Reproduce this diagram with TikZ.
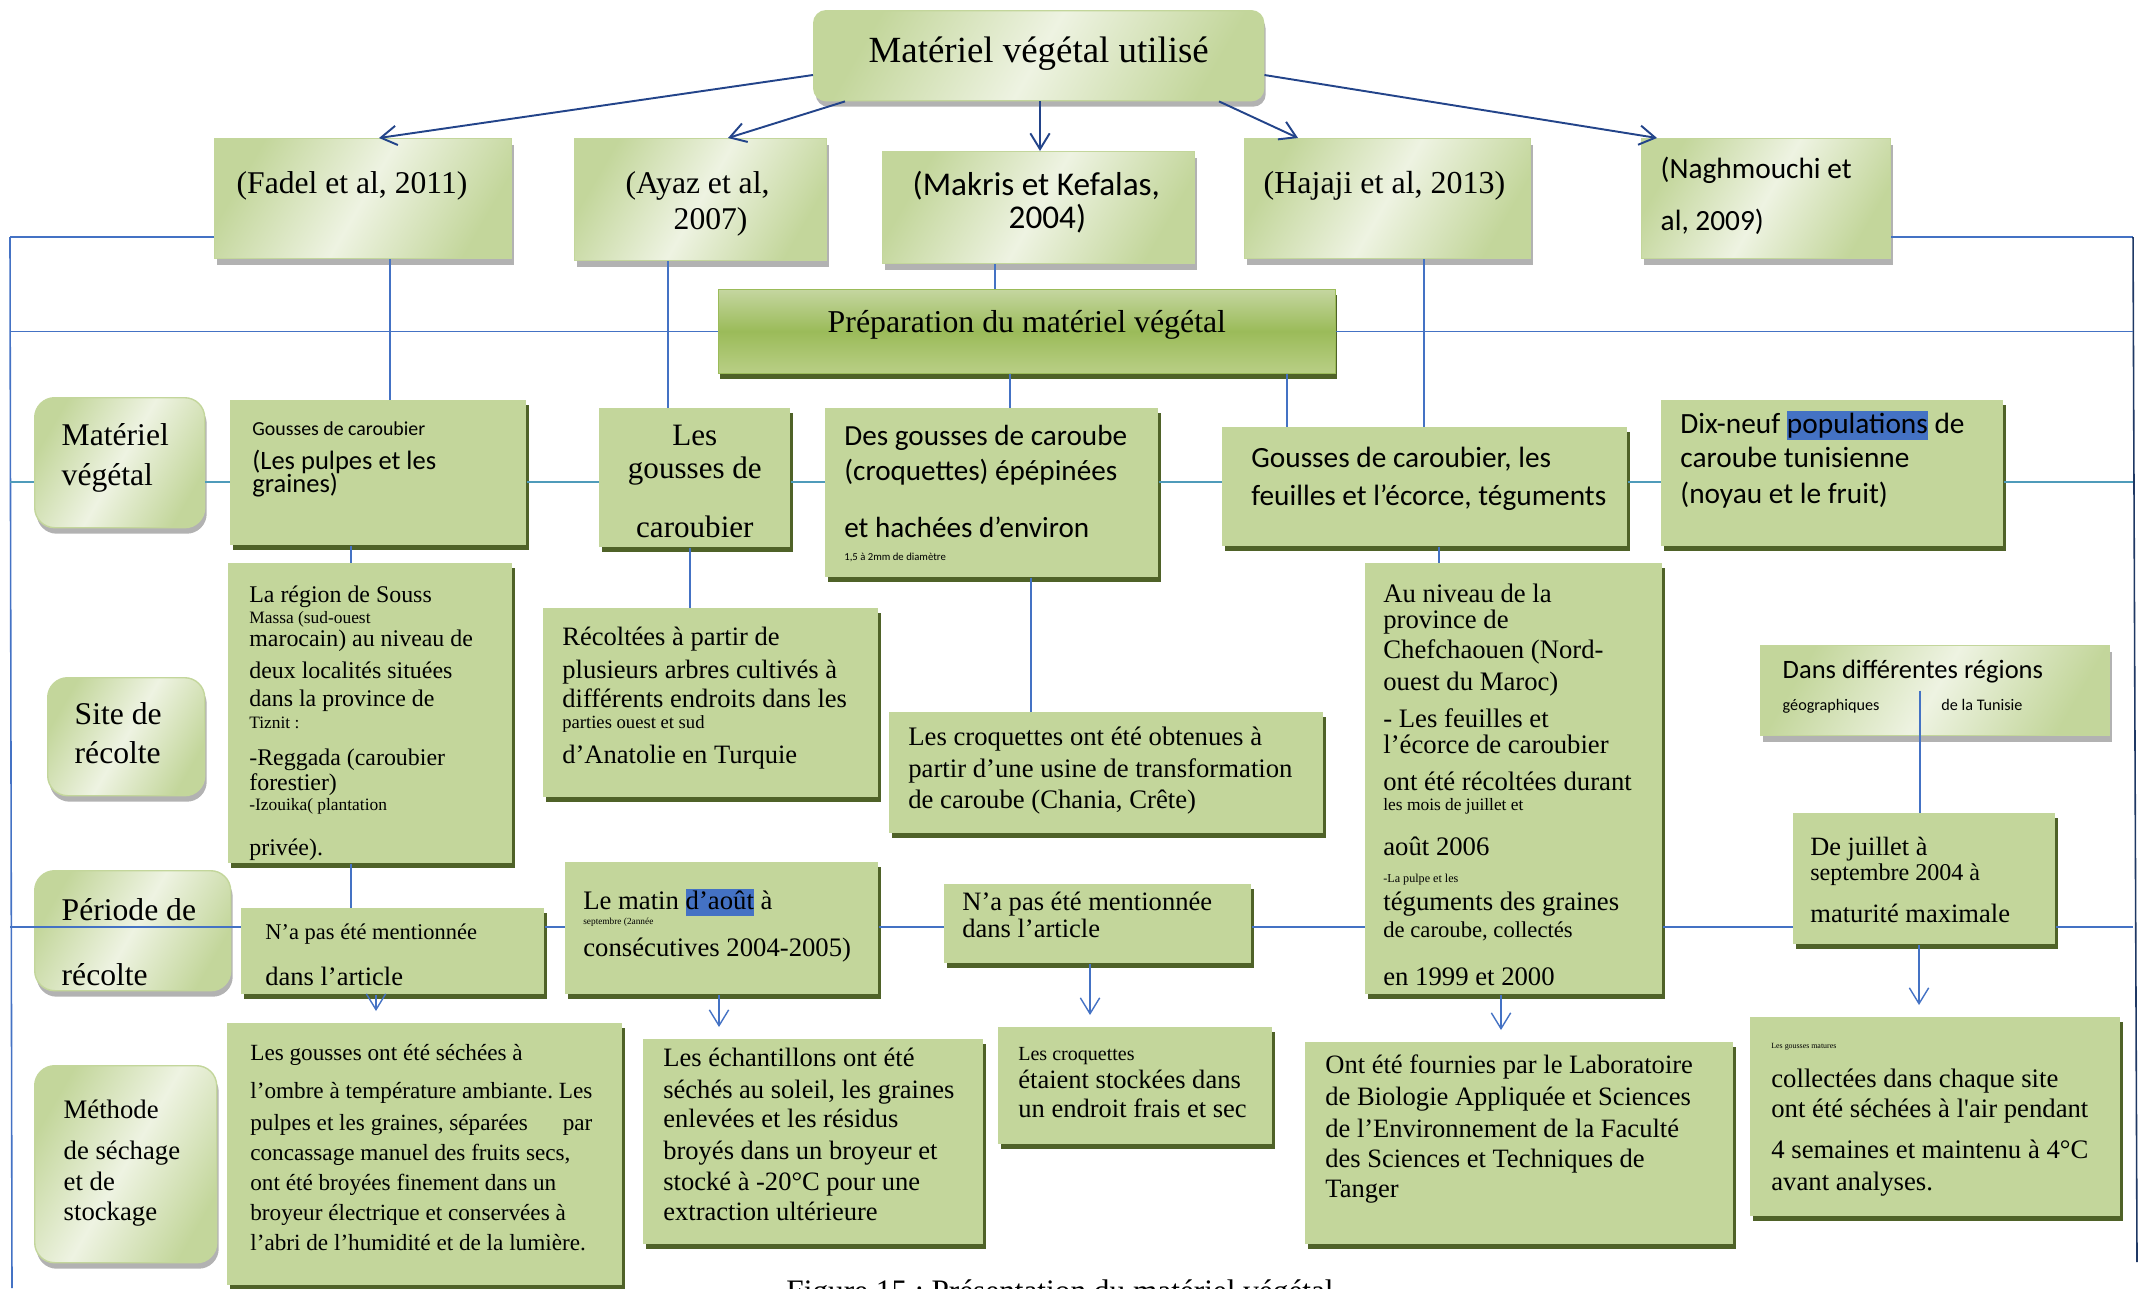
\documentclass[tikz,border=0pt]{standalone}
\usepackage{fontspec}
\setmainfont{Liberation Serif}
\newfontfamily\calib{Carlito}
\usetikzlibrary{shadows, arrows.meta}
\frenchspacing
\newlength{\px}
\setlength{\px}{0.02cm}
\definecolor{boxGreen}{HTML}{C3D69B}
\definecolor{boxEdge}{HTML}{4F6228}
\definecolor{gradDark}{HTML}{C3D69B}
\definecolor{gradLight}{HTML}{EEF3E2}
\definecolor{prepMid}{HTML}{9BBB59}
\definecolor{prepTop}{HTML}{C5D6A0}
\definecolor{prepBot}{HTML}{B9CF86}
\definecolor{hlBlue}{HTML}{4472C4}
\definecolor{linkBlue}{HTML}{4472C4}
\definecolor{linkDark}{HTML}{23448A}
\definecolor{linkTeal}{HTML}{4F9BBA}
\definecolor{frameNavy}{HTML}{1F3864}
\newcommand*{\entry}[4]{% width, height, left padding (px), lines
    \parbox[t][#2\px][t]{#1\px}{\raggedright\leftskip=#3\px\lineskiplimit=-100pt\hbox{}#4}}
\newcommand*{\entryc}[3]{% width, height (px), centred lines
    \parbox[t][#2\px][t]{#1\px}{\centering\lineskiplimit=-100pt\hbox{}#3}}
\newcommand*{\txtline}[4][\rmfamily]{% family, size (pt), distance from previous baseline (px), text
    {#1\fontsize{#2}{#3\px}\selectfont\mbox{#4}\par}}
\newcommand*{\hlword}[1]{{\setlength{\fboxsep}{0pt}\colorbox{hlBlue}{\rule[-0.24em]{0pt}{1em}#1}}}
\tikzset{
    flatbox/.style={fill=boxGreen, inner sep=0pt, anchor=north west,
        drop shadow={shadow xshift=0.06cm, shadow yshift=-0.1cm, fill=boxEdge, opacity=1}},
    softbox/.style={left color=gradDark, right color=gradDark, middle color=gradLight, shading angle=60,
        draw=gradDark, line width=0.8pt, inner sep=0pt, anchor=north west,
        drop shadow={shadow xshift=0.04cm, shadow yshift=-0.12cm, fill=black!30, opacity=1}},
    labelbox/.style={softbox, rounded corners=0.4cm},
    titlebox/.style={softbox, rounded corners=0.25cm},
    prepbox/.style={top color=prepTop, bottom color=prepBot, middle color=prepMid, draw=prepMid,
        inner sep=0pt, anchor=north west,
        drop shadow={shadow xshift=0.03cm, shadow yshift=-0.12cm, fill=boxEdge, opacity=1}},
    reflink/.style={draw=linkDark, line width=1.1pt, ->},
    thinlink/.style={draw=linkBlue, line width=0.6pt},
    mainlink/.style={draw=linkBlue, line width=1.4pt},
    rowlink/.style={draw=linkTeal, line width=1.1pt},
    droplink/.style={draw=linkBlue, line width=0.8pt, ->, shorten >=0.24cm},
    framelink/.style={draw=linkBlue, line width=0.9pt},
}

\begin{document}
\begin{tikzpicture}[x=0.02cm, y=-0.02cm, >={Straight Barb[length=9pt,width=11pt]}]
\useasboundingbox (0,0) rectangle (2145,1288);
\node[titlebox] (title) at (813,10) {\entryc{450}{90}{\txtline{21}{52}{Matériel végétal utilisé}}};
\node[softbox] (fadelRef) at (214,138) {\entry{297}{120}{22}{\txtline{18}{55}{(Fadel et al, 2011)}}};
\node[softbox] (ayazRef) at (574,138) {\entry{252}{122}{51}{\txtline{18}{55}{(Ayaz et al,}\txtline{18}{36}{\hspace{48\px}2007)}}};
\node[softbox] (makRef) at (882,151) {\entry{312}{112}{30}{\txtline[\calib]{18.9}{44}{(Makris et Kefalas,}\txtline[\calib]{18.9}{33}{\hspace{96\px}2004)}}};
\node[softbox] (hajRef) at (1244,138) {\entry{286}{120}{19}{\txtline{18.2}{55}{(Hajaji et al, 2013)}}};
\node[softbox] (nagRef) at (1641,138) {\entry{249}{120}{19}{\txtline[\calib]{16.7}{40}{(Naghmouchi et}\txtline[\calib]{16.7}{52}{al, 2009)}}};
\node[prepbox] (prep) at (718,289) {\entryc{617}{84}{\txtline{18.1}{43}{Préparation du matériel végétal}}};

\node[labelbox] (matLbl) at (34,397) {\entry{170}{130}{27}{\txtline{18}{48}{Matériel}\txtline{18}{40}{végétal}}};
\node[labelbox] (siteLbl) at (47,677) {\entry{157}{118}{27}{\txtline{18}{47}{Site de}\txtline{18}{39}{récolte}}};
\node[labelbox] (perLbl) at (34,870) {\entry{196}{120}{27}{\txtline{18}{50}{Période de}\txtline{18}{65}{récolte}}};
\node[labelbox] (methLbl) at (34,1065) {\entry{182}{197}{29}{\txtline{15.2}{53}{Méthode}\txtline{15.2}{41}{de séchage}\txtline{15.2}{31}{et de}\txtline{15.2}{30}{stockage}}};

\node[flatbox] (fadelMat) at (230,400) {\entry{296}{145}{22}{\txtline[\calib]{11.3}{35}{Gousses de caroubier}\txtline[\calib]{15.1}{34}{(Les pulpes et les}\txtline[\calib]{15.1}{23}{graines)}}};
\node[flatbox] (ayazMat) at (599,408) {\entryc{191}{139}{\txtline{17.7}{37}{Les}\txtline{17.7}{33}{gousses de}\txtline{17.7}{59}{caroubier}}};
\node[flatbox] (makMat) at (825,408) {\entry{333}{169}{19}{\txtline[\calib]{16.6}{37}{Des gousses de caroube}\txtline[\calib]{16.6}{35}{(croquettes) épépinées}\txtline[\calib]{16.6}{57}{et hachées d’environ}\txtline[\calib]{6.1}{23}{1,5 à 2mm de diamètre}}};
\node[flatbox] (hajMat) at (1222,427) {\entry{405}{119}{29}{\txtline[\calib]{16.7}{40}{Gousses de caroubier, les}\txtline[\calib]{16.7}{38}{feuilles et l’écorce, téguments}}};
\node[flatbox] (nagMat) at (1661,400) {\entry{342}{146}{19}{\txtline[\calib]{16.7}{33}{Dix-neuf \hlword{populations} de}\txtline[\calib]{16.7}{34}{caroube tunisienne}\txtline[\calib]{16.7}{36}{(noyau et le fruit)}}};

\node[flatbox] (soussBox) at (228,563) {\entry{284}{300}{21}{\txtline{13.6}{39}{La région de Souss}\txtline{9.9}{21}{Massa (sud-ouest}\txtline{13.6}{23}{marocain) au niveau de}\txtline{13.6}{32}{deux localités situées}\txtline{13.6}{28}{dans la province de}\txtline{9.9}{22}{Tiznit :}\txtline{13.6}{37}{-Reggada (caroubier}\txtline{13.6}{25}{forestier)}\txtline{9.9}{20}{-Izouika( plantation}\txtline{13.6}{45}{privée).}}};
\node[flatbox] (ayazSite) at (543,608) {\entry{335}{189}{19}{\txtline{15.1}{37}{Récoltées à partir de}\txtline{15.1}{33}{plusieurs arbres cultivés à}\txtline{15.1}{29}{différents endroits dans les}\txtline{10.6}{21}{parties ouest et sud}\txtline{15.1}{35}{d’Anatolie en Turquie}}};
\node[flatbox] (makSite) at (889,712) {\entry{434}{121}{19}{\txtline{15.2}{33}{Les croquettes ont été obtenues à}\txtline{15.2}{32}{partir d’une usine de transformation}\txtline{15.2}{31}{de caroube (Chania, Crête)}}};
\node[flatbox] (hajSite) at (1365,563) {\entry{297}{431}{18}{\txtline{15.2}{39}{Au niveau de la}\txtline{15.2}{26}{province de}\txtline{15.2}{30}{Chefchaouen (Nord-}\txtline{15.2}{32}{ouest du Maroc)}\txtline{15.2}{37}{- Les feuilles et}\txtline{15.2}{26}{l’écorce de caroubier}\txtline{15.2}{37}{ont été récoltées durant}\txtline{9.9}{20}{les mois de juillet et}\txtline{15.2}{45}{août 2006}\txtline{6.9}{27}{-La pulpe et les}\txtline{15.2}{28}{téguments des graines}\txtline{12.9}{27}{de caroube, collectés}\txtline{15.2}{48}{en 1999 et 2000}}};
\node[softbox] (nagSite) at (1760,645) {\entry{349}{90}{22}{\txtline[\calib]{15.1}{33}{Dans différentes régions}\txtline[\calib]{9.2}{32}{géographiques\hspace{62\px}de la Tunisie}}};
\node[flatbox] (nagPer) at (1793,813) {\entry{262}{131}{17}{\txtline{15}{42}{De juillet à}\txtline{13.7}{25}{septembre 2004 à}\txtline{15.1}{42}{maturité maximale}}};

\node[flatbox] (fadelPer) at (241,908) {\entry{303}{86}{24}{\txtline{12.8}{31}{N’a pas été mentionnée}\txtline{15.1}{46}{dans l’article}}};
\node[flatbox] (ayazPer) at (565,862) {\entry{313}{132}{18}{\txtline{15.2}{47}{Le matin \hlword{d’août} à}\txtline{5.3}{15}{septembre (2année}\txtline{15.2}{32}{consécutives 2004-2005)}}};
\node[flatbox] (makPer) at (944,884) {\entry{307}{79}{18}{\txtline{15.1}{26}{N’a pas été mentionnée}\txtline{15.1}{27}{dans l’article}}};

\node[flatbox] (fadelMeth) at (227,1023) {\entry{395}{262}{23}{\txtline{13.2}{37}{Les gousses ont été séchées à}\txtline{13.2}{38}{l’ombre à température ambiante. Les}\txtline{13.2}{32}{\makebox[342\px][l]{pulpes et les graines, séparées\hfill par}}\txtline{13.2}{30}{concassage manuel des fruits secs,}\txtline{13.2}{30}{ont été broyées finement dans un}\txtline{13.2}{30}{broyeur électrique et conservées à}\txtline{13.2}{30}{l’abri de l’humidité et de la lumière.}}};
\node[flatbox] (ayazMeth) at (643,1039) {\entry{340}{205}{20}{\txtline{15.1}{27}{Les échantillons ont été}\txtline{15.1}{32}{séchés au soleil, les graines}\txtline{15.1}{29}{enlevées et les résidus}\txtline{15.1}{32}{broyés dans un broyeur et}\txtline{15.1}{31}{stocké à -20°C pour une}\txtline{15.1}{30}{extraction ultérieure}}};
\node[flatbox] (makMeth) at (998,1027) {\entry{274}{117}{20}{\txtline{11.4}{33}{Les croquettes}\txtline{15.1}{28}{étaient stockées dans}\txtline{15.1}{29}{un endroit frais et sec}}};
\node[flatbox] (hajMeth) at (1305,1042) {\entry{428}{202}{20}{\txtline{15.1}{31}{Ont été fournies par le Laboratoire}\txtline{15.1}{32}{de Biologie Appliquée et Sciences}\txtline{15.1}{32}{de l’Environnement de la Faculté}\txtline{15.1}{30}{des Sciences et Techniques de}\txtline{15.1}{30}{Tanger}}};
\node[flatbox] (nagMeth) at (1750,1017) {\entry{370}{199}{21}{\txtline{4.5}{31}{Les gousses matures}\txtline{15.2}{39}{collectées dans chaque site}\txtline{15.2}{30}{ont été séchées à l\textquotesingle air pendant}\txtline{15.2}{41}{4 semaines et maintenu à 4°C}\txtline{15.2}{32}{avant analyses.}}};

\node[anchor=base] (caption) at (1060,1301) {\fontsize{17.8}{21}\selectfont Figure 15 : Présentation du matériel végétal};

\coordinate (frameL) at (10,237);
\coordinate (frameLB) at (12,1288);
\coordinate (frameR) at (2133,237);
\coordinate (frameRB) at (2137,1262);
\draw[framelink, line width=1.5pt] (fadelRef.west |- frameL) -- (frameL);
\draw[framelink] (frameL) -- (frameLB);
\draw[framelink, line width=1.5pt] (nagRef.east |- frameR) -- (frameR);
\draw[framelink, draw=frameNavy] (frameR) -- (frameRB);

\draw[reflink] (title.west |- 0,75) -- (379,0 |- fadelRef.north);
\draw[reflink] (845,0 |- title.south) -- (728,0 |- ayazRef.north);
\draw[reflink] (1040,0 |- title.south) -- (1040,0 |- makRef.north);
\draw[reflink] (1219,0 |- title.south) -- (1298,0 |- hajRef.north);
\draw[reflink] (title.east |- 0,75) -- (1657,0 |- nagRef.north);

\draw[thinlink] (frameL |- prep.west) -- (prep.west);
\draw[thinlink] (prep.east) -- (frameR |- prep.east);
\foreach \x/\a/\b in {390/fadelRef/fadelMat, 668/ayazRef/ayazMat, 995/makRef/prep, 1424/hajRef/hajMat}
    \draw[thinlink] (\x,0 |- \a.south) -- (\x,0 |- \b.north);

\draw[rowlink] (frameL |- 0,482) -- (matLbl.west |- 0,482);
\foreach \a/\b in {matLbl/fadelMat, fadelMat/ayazMat, ayazMat/makMat, makMat/hajMat, hajMat/nagMat}
    \draw[rowlink] (\a.east |- 0,482) -- (\b.west |- 0,482);
\draw[rowlink] (nagMat.east |- 0,482) -- (frameR |- 0,482);

\foreach \x/\a/\b in {1010/prep/makMat, 1287/prep/hajMat, 351/fadelMat/soussBox, 351/soussBox/fadelPer, 690/ayazMat/ayazSite, 1031/makMat/makSite, 1439/hajMat/hajSite}
    \draw[mainlink] (\x,0 |- \a.south) -- (\x,0 |- \b.north);
\draw[mainlink] (1920,0 |- nagSite.center) -- (1920,0 |- nagPer.north);

\draw[mainlink] (frameL |- 0,927) -- (fadelPer.west |- 0,927);
\foreach \a/\b in {fadelPer/ayazPer, ayazPer/makPer, makPer/hajSite, hajSite/nagPer}
    \draw[mainlink] (\a.east |- 0,927) -- (\b.west |- 0,927);
\draw[mainlink] (nagPer.east |- 0,927) -- (frameR |- 0,927);

\foreach \x/\a/\b in {376/fadelPer/fadelMeth, 719/ayazPer/ayazMeth, 1090/makPer/makMeth, 1501/hajSite/hajMeth, 1919/nagPer/nagMeth}
    \draw[droplink] (\x,0 |- \a.south) -- (\x,0 |- \b.north);
\end{tikzpicture}
\end{document}
